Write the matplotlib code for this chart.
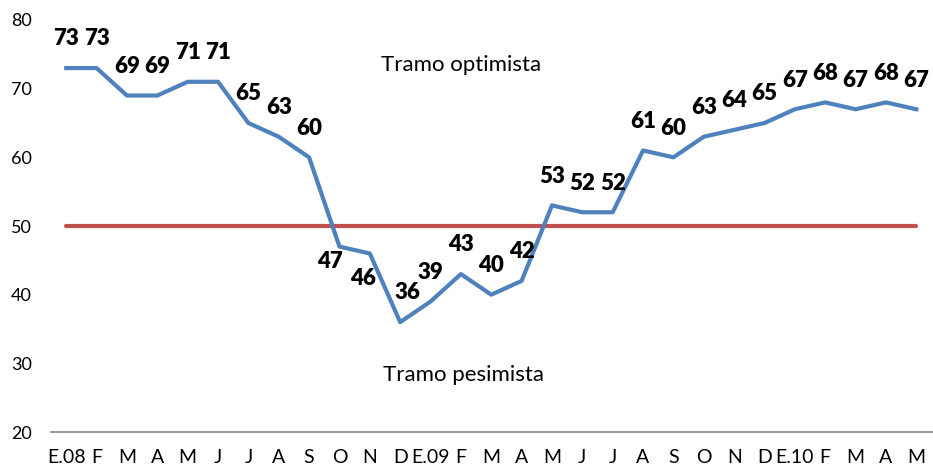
import matplotlib
matplotlib.use("Agg")
import matplotlib.pyplot as plt

plt.rcParams["font.family"] = ["Lato", "DejaVu Sans"]

BLUE, RED, GREY = "#4F81BD", "#C0504D", "#868686"

months = ["E.08", "F", "M", "A", "M", "J", "J", "A", "S", "O", "N", "D",
          "E.09", "F", "M", "A", "M", "J", "J", "A", "S", "O", "N", "D",
          "E.10", "F", "M", "A", "M"]
values = [73, 73, 69, 69, 71, 71, 65, 63, 60, 47, 46, 36,
          39, 43, 40, 42, 53, 52, 52, 61, 60, 63, 64, 65,
          67, 68, 67, 68, 67]
threshold = 50

# label offsets (points) – most sit above the point, a few were moved by hand
default_off = (0, 21)
label_off = {9: (-7, -11), 10: (-5, -18), 11: (5, 21)}

fig = plt.figure(figsize=(9.33, 4.76), dpi=100)
ax = fig.add_axes([0.0547, 0.0924, 0.9453, 0.8656])

x = list(range(len(values)))
ax.plot(x, [threshold] * len(x), color=RED, lw=3, solid_capstyle="round")
ax.plot(x, values, color=BLUE, lw=3, solid_joinstyle="round")

for i, v in enumerate(values):
    ax.annotate(str(v), (i, v), xytext=label_off.get(i, default_off),
                textcoords="offset points", ha="center", va="center",
                fontsize=16, fontweight="heavy", color="black")

ax.text(13, 73.4, "Tramo optimista", ha="center", va="center", fontsize=16)
ax.text(13.1, 28.3, "Tramo pesimista", ha="center", va="center", fontsize=16)

ax.set_xlim(-0.5, len(values) - 0.45)
ax.set_ylim(20, 80)
ax.set_yticks(range(20, 81, 10))
ax.set_xticks(x)
ax.set_xticklabels(months)
ax.tick_params(axis="y", length=0, pad=14, labelsize=13)
ax.tick_params(axis="x", length=0, pad=12, labelsize=14)
for s in ("top", "right", "left"):
    ax.spines[s].set_visible(False)
ax.spines["bottom"].set_color(GREY)
ax.spines["bottom"].set_linewidth(1.2)

fig.savefig("out.png", dpi=100)
